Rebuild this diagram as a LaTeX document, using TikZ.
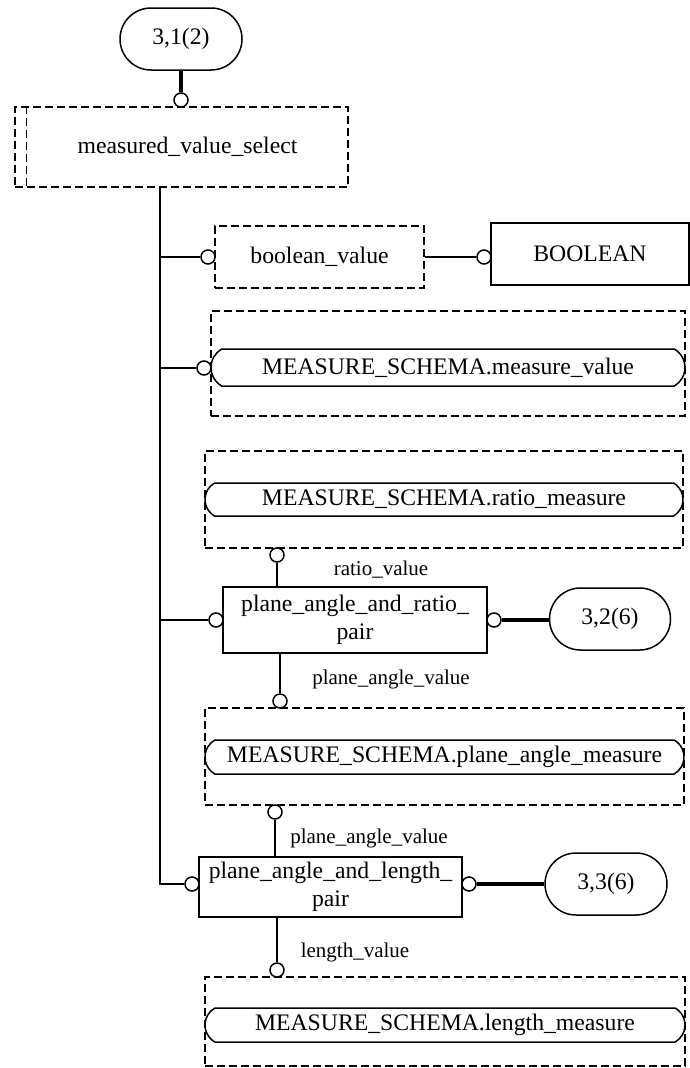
\documentclass[tikz,border=0pt]{standalone}
\usepackage{fontspec}
\setmainfont{Liberation Serif}
\usetikzlibrary{shapes.misc}
\begin{document}
\begin{tikzpicture}[x=1pt,y=-1pt,
  every node/.style={font=\fontsize{23.7}{28}\selectfont, inner sep=0pt},
  ln/.style={line width=1.5pt},
  thk/.style={line width=3.5pt},
  dln/.style={line width=1.3pt, dash pattern=on 8pt off 4pt},
  dbox/.style={draw, line width=1.3pt, dash pattern=on 8pt off 4pt},
  ent/.style={draw, line width=1.5pt, align=center},
  oval/.style={draw, rounded rectangle, line width=1.5pt},
  rrect/.style={draw, rounded rectangle, rounded rectangle arc length=120, line width=1.5pt},
  circ/.style={circle, draw, fill=white, minimum size=14pt, line width=1.5pt},
  lbl/.style={font=\fontsize{21}{25}\selectfont}]
\useasboundingbox (0,0) rectangle (690,1068);

% top
\node[oval, minimum width=122pt, minimum height=62pt] (o1) at (181,39) {3,1(2)};
\node[dbox, minimum width=333pt, minimum height=80pt] (mvs) at (181.5,147) {\hspace*{12pt}measured\_value\_select};
\draw[dln] ([xshift=12pt]mvs.north west) -- ([xshift=12pt]mvs.south west);
\node[circ] (c0) at (181,100) {};
\draw[thk] (o1.south) -- (c0.north);
\coordinate (tk) at (160,187);

% boolean
\node[dbox, minimum width=209pt, minimum height=62pt] (bv) at (319.5,257) {boolean\_value};
\node[circ] (cbv) at (208,257) {};
\node[ent, minimum width=198pt, minimum height=62pt] (bool) at (590,254) {BOOLEAN};
\node[circ] (cbool) at (484,257) {};
\draw[ln] (tk |- cbv) -- (cbv.west);
\draw[ln] (bv.east |- cbool) -- (cbool.west);

% measure_value
\node[dbox, minimum width=474pt, minimum height=105pt] (mv) at (448,363.5) {};
\node[rrect, minimum width=474pt, minimum height=37pt] (mvr) at (448,367.5) {MEASURE\_SCHEMA.measure\_value};
\node[circ] (cmv) at (204,368) {};
\draw[ln] (tk |- cmv) -- (cmv.west);

% ratio measure
\node[dbox, minimum width=478pt, minimum height=97pt] (rm) at (444,499.5) {};
\node[rrect, minimum width=478pt, minimum height=33pt] (rmr) at (444,499.5) {MEASURE\_SCHEMA.ratio\_measure};
\node[circ] (crm) at (277,555) {};

% plane_angle_and_ratio_pair
\node[ent, minimum width=264pt, minimum height=66pt] (rp) at (355,620) {plane\_angle\_and\_ratio\_\\pair};
\node[circ] (crp) at (216,620) {};
\node[circ] (crp2) at (494,620) {};
\node[oval, minimum width=121pt, minimum height=62pt] (o2) at (610,619) {3,2(6)};
\draw[ln] (crm.south) -- (crm.south |- rp.north);
\node[lbl] (lrv) at (381,570) {ratio\_value};
\draw[ln] (tk |- crp) -- (crp.west);
\draw[thk] (crp2.east) -- (o2.west |- crp2);

% plane angle measure
\node[circ] (cpa) at (280,701) {};
\draw[ln] (rp.south -| cpa) -- (cpa.north);
\node[lbl] (lpa) at (391,679) {plane\_angle\_value};
\node[dbox, minimum width=479pt, minimum height=97pt] (pam) at (444.5,756.5) {};
\node[rrect, minimum width=479pt, minimum height=34pt] (pamr) at (444.5,757) {MEASURE\_SCHEMA.plane\_angle\_measure};
\node[circ] (cpa2) at (275,812) {};

% plane_angle_and_length_pair
\node[ent, minimum width=263pt, minimum height=60pt] (lp) at (330.5,887) {plane\_angle\_and\_length\_\\pair};
\draw[ln] (cpa2.south) -- (cpa2.south |- lp.north);
\node[lbl] (lpa2) at (369,838) {plane\_angle\_value};
\node[circ] (clp) at (192,884) {};
\node[circ] (clp2) at (469,884) {};
\node[oval, minimum width=122pt, minimum height=62pt] (o3) at (606,884) {3,3(6)};
\draw[ln] (tk) |- (clp.west);
\draw[thk] (clp2.east) -- (o3.west |- clp2);

% length measure
\node[circ] (clm) at (277,970) {};
\draw[ln] (lp.south -| clm) -- (clm.north);
\node[lbl] (llv) at (355,952) {length\_value};
\node[dbox, minimum width=480pt, minimum height=89pt] (lm) at (445,1021.5) {};
\node[rrect, minimum width=480pt, minimum height=34pt] (lmr) at (445,1025) {MEASURE\_SCHEMA.length\_measure};
\end{tikzpicture}
\end{document}
